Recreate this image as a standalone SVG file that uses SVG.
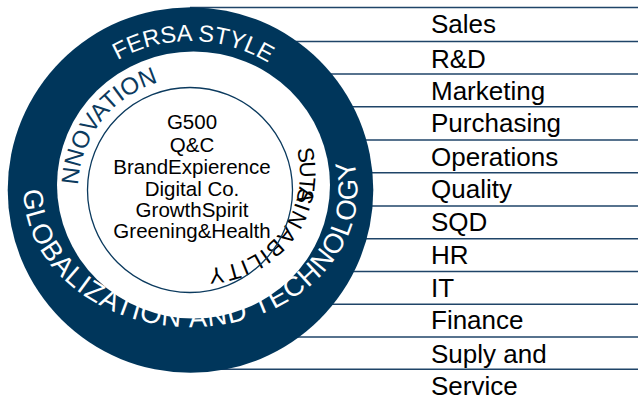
<svg xmlns="http://www.w3.org/2000/svg" width="638" height="396" viewBox="0 0 638 396">
<style>
.rule{stroke:#1f4468;stroke-width:1.5;fill:none}
.lbl{font-family:"Liberation Sans",Arial,sans-serif;font-size:26px;fill:#000}
.core{font-family:"Liberation Sans",Arial,sans-serif;font-size:20.5px;fill:#000;text-anchor:middle}
.arc{font-family:"Liberation Sans",Arial,sans-serif}
</style>
<defs>
<path id="p-fersa" d="M 41.5 190 A 149 149 0 0 1 339.5 190"/>
<path id="p-innov" d="M 93 246 A 112 112 0 0 1 220.9 82.3"/>
<path id="p-glob" d="M 24.14 178.1 A 167 137 0 1 0 347.4 143.1"/>
<path id="p-sus" d="M 287.4 127 A 94 94 0 0 1 173.9 262.3"/>
</defs>
<rect width="638" height="396" fill="#fff"/>
<g id="connectors">
<line class="rule" x1="190" y1="7.5" x2="638" y2="7.5"/>
<line class="rule" x1="190" y1="41.5" x2="638" y2="41.5"/>
<line class="rule" x1="190" y1="74" x2="638" y2="74"/>
<line class="rule" x1="190" y1="106.7" x2="638" y2="106.7"/>
<line class="rule" x1="190" y1="140" x2="638" y2="140"/>
<line class="rule" x1="190" y1="172.7" x2="638" y2="172.7"/>
<line class="rule" x1="190" y1="206" x2="638" y2="206"/>
<line class="rule" x1="190" y1="238.7" x2="638" y2="238.7"/>
<line class="rule" x1="190" y1="271.5" x2="638" y2="271.5"/>
<line class="rule" x1="190" y1="304.3" x2="638" y2="304.3"/>
<line class="rule" x1="190" y1="337" x2="638" y2="337"/>
<line class="rule" x1="190" y1="369.3" x2="638" y2="369.3"/>
</g>
<g id="ring">
<circle cx="190.5" cy="190" r="182.8" fill="#00365b"/>
<ellipse cx="193.5" cy="185" rx="136.5" ry="133.5" fill="#fff"/>
<text class="arc" font-size="23.5" fill="#fff"><textPath href="#p-fersa" startOffset="50.6%" text-anchor="middle">FERSA STYLE</textPath></text>
<text class="arc" font-size="27.5" fill="#fff" letter-spacing="1.05"><textPath href="#p-glob" startOffset="12">GLOBALIZATION AND TECHNOLOGY</textPath></text>
</g>
<g id="innovation">
<text class="arc" font-size="24" fill="#0b3a5e"><textPath href="#p-innov" startOffset="50%" text-anchor="middle">NNOVATION</textPath></text>
</g>
<g id="sustainability">
<text class="arc" font-size="22.5" fill="#000"><textPath href="#p-sus" startOffset="24">S<tspan dx="-2">U</tspan><tspan dx="9.1">S</tspan><tspan dx="-25.8">T</tspan><tspan dx="-2.3">A</tspan><tspan dx="0.8" letter-spacing="1.3">INABILITY</tspan></textPath></text>
</g>
<g id="core">
<circle cx="190" cy="190" r="102.5" fill="none" stroke="#0b3a5e" stroke-width="1.3"/>
<text class="core" x="192" y="129">G500</text>
<text class="core" x="192" y="152">Q&amp;C</text>
<text class="core" x="192" y="174">BrandExpierence</text>
<text class="core" x="192" y="195.5">Digital Co.</text>
<text class="core" x="192" y="216.5">GrowthSpirit</text>
<text class="core" x="192" y="238">Greening&amp;Health</text>
</g>
<g id="dept-sales"><text class="lbl" x="431" y="33.3">Sales</text></g>
<g id="dept-rd"><text class="lbl" x="431" y="67.5">R&amp;D</text></g>
<g id="dept-marketing"><text class="lbl" x="431" y="99.5">Marketing</text></g>
<g id="dept-purchasing"><text class="lbl" x="431" y="132">Purchasing</text></g>
<g id="dept-operations"><text class="lbl" x="431" y="165.5">Operations</text></g>
<g id="dept-quality"><text class="lbl" x="431" y="198">Quality</text></g>
<g id="dept-sqd"><text class="lbl" x="431" y="231">SQD</text></g>
<g id="dept-hr"><text class="lbl" x="431" y="264">HR</text></g>
<g id="dept-it"><text class="lbl" x="431" y="296.5">IT</text></g>
<g id="dept-finance"><text class="lbl" x="431" y="329">Finance</text></g>
<g id="dept-supply"><text class="lbl" x="431" y="362.5">Suply and</text></g>
<g id="dept-service"><text class="lbl" x="431" y="394.5">Service</text></g>
</svg>
